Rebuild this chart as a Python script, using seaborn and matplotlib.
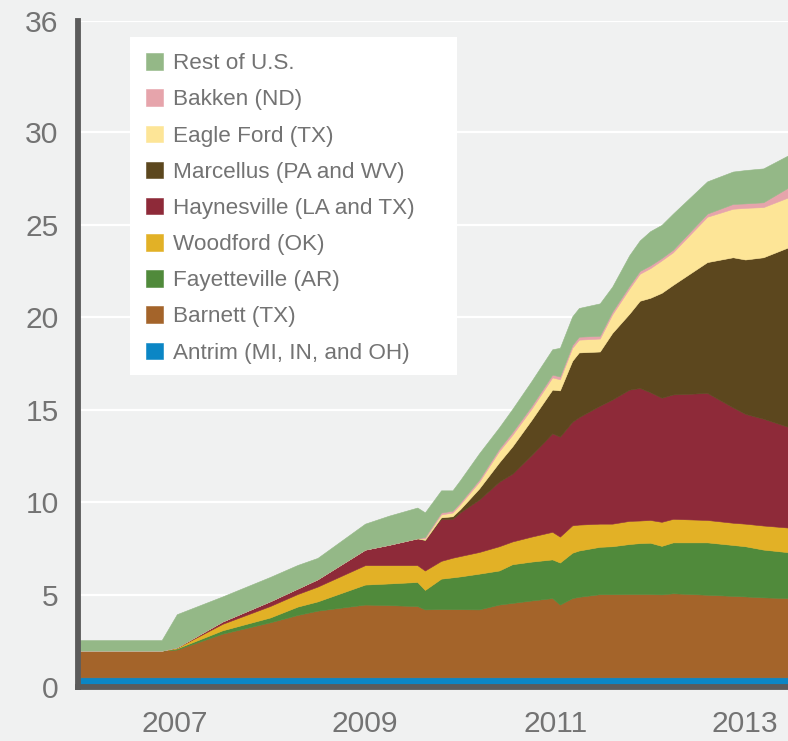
import numpy as np
import matplotlib
matplotlib.use("Agg")
import matplotlib.pyplot as plt
from matplotlib.patches import Rectangle
import seaborn as sns

# --- data (Bcf/d, layer thickness per play) ---
years = [2006.0, 2006.86, 2007.02, 2007.5, 2008.0, 2008.29, 2008.5, 2009.0, 2009.25,
         2009.55, 2009.63, 2009.8, 2009.92, 2010.0, 2010.2, 2010.41, 2010.55, 2010.75,
         2010.97, 2011.05, 2011.18, 2011.25, 2011.47, 2011.6, 2011.78, 2011.89, 2012.0,
         2012.12, 2012.24, 2012.6, 2012.87, 2013.0, 2013.19, 2013.45]

antrim = [0.55] * 34
barnett = [1.44, 1.44, 1.50, 2.36, 2.97, 3.37, 3.60, 3.93, 3.90, 3.85, 3.67, 3.69,
           3.68, 3.68, 3.67, 3.93, 4.02, 4.15, 4.28, 3.93, 4.28, 4.35, 4.49, 4.49,
           4.50, 4.50, 4.50, 4.48, 4.54, 4.46, 4.40, 4.37, 4.32, 4.28]
fayetteville = [0, 0, 0.06, 0.18, 0.26, 0.45, 0.50, 1.08, 1.17, 1.30, 1.05, 1.64,
                1.72, 1.77, 1.93, 1.84, 2.09, 2.10, 2.09, 2.27, 2.45, 2.50, 2.56, 2.59,
                2.70, 2.75, 2.77, 2.62, 2.75, 2.83, 2.75, 2.71, 2.58, 2.48]
woodford = [0, 0, 0.04, 0.35, 0.62, 0.68, 0.80, 1.05, 0.99, 0.91, 1.05, 0.96,
            1.06, 1.10, 1.17, 1.31, 1.23, 1.35, 1.49, 1.40, 1.48, 1.40, 1.25, 1.22,
            1.25, 1.22, 1.23, 1.30, 1.27, 1.21, 1.20, 1.22, 1.30, 1.33]
haynesville = [0, 0, 0.02, 0.13, 0.26, 0.30, 0.40, 0.84, 1.10, 1.45, 1.65, 2.26,
               2.10, 2.36, 2.83, 3.48, 3.66, 4.40, 5.32, 5.40, 5.59, 5.80, 6.37, 6.70,
               7.09, 7.16, 6.90, 6.70, 6.72, 6.86, 6.23, 5.93, 5.77, 5.44]
marcellus = [0, 0, 0, 0, 0, 0, 0, 0, 0, 0, 0, 0.09,
             0.14, 0.17, 0.60, 1.05, 1.48, 1.90, 2.36, 2.50, 3.30, 3.50, 2.93, 3.60,
             4.10, 4.71, 5.10, 5.67, 5.92, 7.07, 8.11, 8.34, 8.72, 9.69]
eagle_ford = [0, 0, 0, 0, 0, 0, 0, 0, 0, 0, 0.08, 0.16,
              0.20, 0.26, 0.36, 0.61, 0.62, 0.60, 0.66, 0.60, 0.70, 0.69, 0.70, 1.00,
              1.36, 1.46, 1.60, 1.75, 1.76, 2.45, 2.62, 2.79, 2.71, 2.70]
bakken = [0, 0, 0, 0, 0, 0, 0, 0, 0, 0, 0.08, 0.10,
          0.10, 0.10, 0.12, 0.13, 0.15, 0.15, 0.15, 0.15, 0.15, 0.16, 0.15, 0.15,
          0.15, 0.15, 0.15, 0.13, 0.14, 0.17, 0.26, 0.24, 0.26, 0.53]
rest_of_us = [0.57, 0.57, 1.79, 1.35, 1.31, 1.27, 1.15, 1.40, 1.57, 1.66, 1.33, 1.20,
              1.10, 1.21, 1.42, 1.15, 1.25, 1.35, 1.37, 1.55, 1.55, 1.55, 1.75, 1.35,
              1.65, 1.65, 1.85, 1.79, 1.95, 1.74, 1.75, 1.80, 1.83, 1.74]

labels = ["Antrim (MI, IN, and OH)", "Barnett (TX)", "Fayetteville (AR)", "Woodford (OK)",
          "Haynesville (LA and TX)", "Marcellus (PA and WV)", "Eagle Ford (TX)",
          "Bakken (ND)", "Rest of U.S."]
colors = ["#0b86c5", "#a4642a", "#508a3b", "#e2b126", "#8e2a39", "#5c471e",
          "#fde597", "#e6a4ab", "#94b887"]
year_ticks = [2007, 2009, 2011, 2013]
minor_ticks = [2008, 2010, 2012]
y_ticks = [0, 5, 10, 15, 20, 25, 30, 36]

# --- styling ---
bg = "#f0f1f1"
axis_grey = "#5b5b5b"
text_grey = "#737373"
sns.set_theme(style="white")
plt.rcParams["font.family"] = ["Liberation Sans", "DejaVu Sans"]

fig = plt.figure(figsize=(7.88, 7.41), dpi=100, facecolor=bg)
ax = fig.add_axes([0.099, 0.0722, 0.901, 0.8994])
ax.set_facecolor(bg)

series = [antrim, barnett, fayetteville, woodford, haynesville,
          marcellus, eagle_ford, bakken, rest_of_us]
ax.stackplot(years, np.array(series), labels=labels, colors=colors,
             linewidth=0.4, edgecolor="face", zorder=2)

ax.set_xlim(2005.98, 2013.45)
ax.set_ylim(0, 36)
ax.set_yticks(y_ticks)
ax.set_yticklabels([str(v) for v in y_ticks])
ax.set_xticks(year_ticks)
ax.set_xticklabels([str(v) for v in year_ticks])
ax.set_xticks(minor_ticks, minor=True)

ax.grid(axis="y", color="white", linewidth=1.6, zorder=0)
ax.set_axisbelow(True)

sns.despine(ax=ax, top=True, right=True)
for side in ["left", "bottom"]:
    ax.spines[side].set_color(axis_grey)
    ax.spines[side].set_linewidth(4.2)
    ax.spines[side].set_zorder(5)

ax.tick_params(axis="y", length=0, pad=14, labelsize=21.6, labelcolor=text_grey)
ax.tick_params(axis="x", which="both", direction="out", length=10, width=2.9,
               color=axis_grey, pad=6, labelsize=21.6, labelcolor=text_grey)

# white legend panel (fixed width like the original graphic)
ax.add_patch(Rectangle((0.0732, 0.4689), 0.4606, 0.5071, transform=ax.transAxes,
                       facecolor="white", edgecolor="none", zorder=6))

handles, labs = ax.get_legend_handles_labels()
leg = ax.legend(handles[::-1], labs[::-1], loc="upper left",
                bbox_to_anchor=(0.0732, 0.976), borderaxespad=0,
                frameon=False, fontsize=16.2, labelcolor=text_grey,
                handlelength=0.75, handleheight=0.75, handletextpad=0.42,
                labelspacing=0.67, borderpad=0.72)
leg.set_zorder(7)

fig.savefig("out.png", dpi=100, facecolor=bg)
